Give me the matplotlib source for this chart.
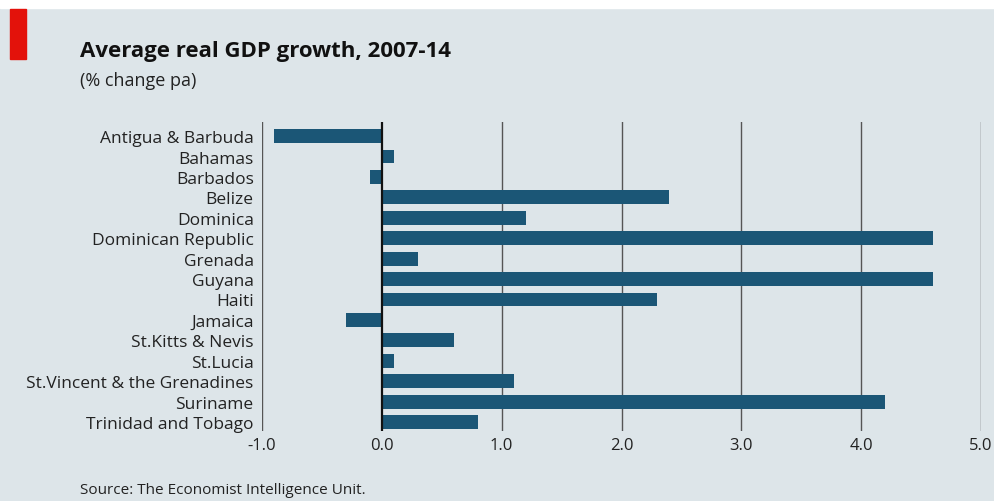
import matplotlib.pyplot as plt
from matplotlib import font_manager
from matplotlib.patches import Rectangle

countries = [
    "Antigua & Barbuda", "Bahamas", "Barbados", "Belize", "Dominica",
    "Dominican Republic", "Grenada", "Guyana", "Haiti", "Jamaica",
    "St.Kitts & Nevis", "St.Lucia", "St.Vincent & the Grenadines",
    "Suriname", "Trinidad and Tobago",
]
growth = [-0.9, 0.1, -0.1, 2.4, 1.2, 4.6, 0.3, 4.6, 2.3, -0.3, 0.6, 0.1, 1.1, 4.2, 0.8]
ticks = [-1.0, 0.0, 1.0, 2.0, 3.0, 4.0, 5.0]

names = {f.name for f in font_manager.fontManager.ttflist}
font = "Liberation Sans Narrow" if "Liberation Sans Narrow" in names else "Open Sans"
plt.rcParams["font.family"] = [font, "DejaVu Sans"]

bg = "#dde5e9"
bar_col = "#1b5676"

fig = plt.figure(figsize=(9.94, 5.02), dpi=100, facecolor=bg)
fig.patches.append(Rectangle((0, 1 - 9 / 502), 1, 9 / 502, transform=fig.transFigure,
                             color="white", zorder=0))
fig.patches.append(Rectangle((10 / 994, 1 - 60 / 502), 16 / 994, 50 / 502,
                             transform=fig.transFigure, color="#e3120b", zorder=1))

ax = fig.add_axes([262 / 994, 1 - 432 / 502, (981 - 262) / 994, (432 - 123) / 502])
ax.set_facecolor(bg)

y = list(range(len(countries)))
ax.barh(y, growth, height=0.68, color=bar_col, zorder=3)

for t in ticks:
    ax.axvline(t, color="#111111" if t == 0 else "#555555",
               lw=1.6 if t == 0 else 1.0, zorder=4 if t == 0 else 1)

ax.set_xlim(-1.0, 5.0)
ax.set_ylim(14.44, -0.69)
ax.set_xticks(ticks)
ax.set_xticklabels([f"{t:.1f}" for t in ticks], fontsize=12, color="#222222")
ax.set_yticks(y)
ax.set_yticklabels(countries, fontsize=12.5, color="#222222")
ax.tick_params(length=0, pad=6)
ax.tick_params(axis="x", pad=4)
for s in ax.spines.values():
    s.set_visible(False)

fig.text(80 / 994, 1 - 57 / 502, "Average real GDP growth, 2007-14",
         fontsize=16, fontweight="bold", color="#111111", va="baseline")
fig.text(80 / 994, 1 - 86 / 502, "(% change pa)", fontsize=13, color="#222222", va="baseline")
fig.text(80 / 994, 1 - 494 / 502, "Source: The Economist Intelligence Unit.",
         fontsize=11, color="#222222", va="baseline")

fig.savefig("out.png", dpi=100, facecolor=bg)
